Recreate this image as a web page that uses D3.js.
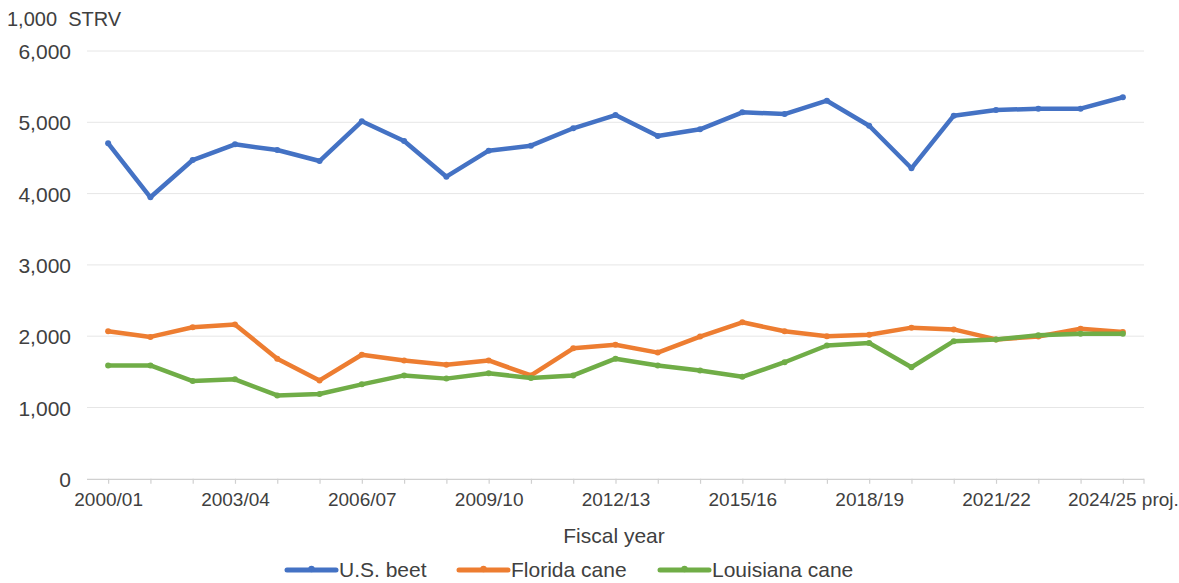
<!DOCTYPE html>
<html>
<head>
<meta charset="utf-8">
<script src="https://cdn.jsdelivr.net/npm/d3@7"></script>
<style>
  html, body { margin: 0; padding: 0; background: #fff; }
  svg { display: block; font-family: "Liberation Sans", Arial, sans-serif; }
</style>
</head>
<body>
<svg id="chart" width="1179" height="583"></svg>
<script>
const categories = ["2000/01","2001/02","2002/03","2003/04","2004/05","2005/06","2006/07","2007/08","2008/09","2009/10","2010/11","2011/12","2012/13","2013/14","2014/15","2015/16","2016/17","2017/18","2018/19","2019/20","2020/21","2021/22","2022/23","2023/24","2024/25"];
const tickLabels = {"2000/01":"2000/01","2003/04":"2003/04","2006/07":"2006/07","2009/10":"2009/10","2012/13":"2012/13","2015/16":"2015/16","2018/19":"2018/19","2021/22":"2021/22","2024/25":"2024/25 proj."};
const usBeet = [4705, 3948, 4471, 4691, 4611, 4457, 5014, 4738, 4237, 4602, 4672, 4916, 5102, 4808, 4902, 5140, 5116, 5303, 4952, 4355, 5093, 5172, 5191, 5191, 5351];
const floridaCane = [2070, 1990, 2125, 2165, 1685, 1380, 1740, 1660, 1600, 1660, 1450, 1830, 1880, 1770, 1995, 2195, 2070, 2000, 2020, 2120, 2095, 1955, 1995, 2105, 2060];
const louisianaCane = [1590, 1590, 1370, 1395, 1170, 1190, 1325, 1450, 1405, 1480, 1415, 1450, 1685, 1590, 1520, 1430, 1635, 1870, 1905, 1565, 1930, 1955, 2015, 2035, 2035];
const yTicks = [0, 1000, 2000, 3000, 4000, 5000, 6000];
const seriesNames = ["U.S. beet", "Florida cane", "Louisiana cane"];
const seriesColors = ["#4472C4", "#ED7D31", "#70AD47"];

(function () {
const svg = d3.select("#chart");
const pLeft = 87, pRight = 1144, pTop = 51, pBottom = 478.8;
const textColor = "#404040";

const x = d3.scalePoint().domain(categories).range([pLeft, pRight]).padding(0.5);
const y = d3.scaleLinear().domain([0, 6000]).range([pBottom, pTop]);

// gridlines
svg.append("g").selectAll("line").data(yTicks.filter(d => d > 0)).join("line")
  .attr("x1", pLeft).attr("x2", pRight)
  .attr("y1", d => y(d)).attr("y2", d => y(d))
  .attr("stroke", "#e6e6e6").attr("stroke-width", 1);

// y labels
const yAxis = d3.axisLeft(y).tickValues(yTicks).tickSize(0).tickPadding(0).tickFormat(d3.format(","));
const gy = svg.append("g").attr("transform", `translate(71,0)`).call(yAxis);
gy.select(".domain").remove();
gy.selectAll("text").attr("font-size", 21).attr("fill", textColor)
  .attr("font-family", "Liberation Sans, Arial, sans-serif").attr("dy", "0.36em");

// x axis
const xAxis = d3.axisBottom(x).tickSize(5).tickSizeOuter(0).tickPadding(9)
  .tickFormat(d => tickLabels[d] || "");
const gx = svg.append("g").attr("transform", `translate(0,${pBottom})`).call(xAxis);
gx.select(".domain").attr("stroke", "#d0d0d0").attr("stroke-width", 1.2)
  .attr("d", `M${pLeft},0.5H${pRight}`);
gx.selectAll(".tick line").attr("stroke", "#d0d0d0").attr("stroke-width", 1.2);
gx.selectAll("text").attr("font-size", 19).attr("fill", textColor)
  .attr("font-family", "Liberation Sans, Arial, sans-serif");
gx.append("line").attr("x1", pRight).attr("x2", pRight).attr("y1", 0).attr("y2", 5)
  .attr("stroke", "#d0d0d0").attr("stroke-width", 1.2);

// axis titles
svg.append("text").attr("x", 7).attr("y", 26).attr("font-size", 20).attr("fill", textColor)
  .attr("xml:space", "preserve").style("white-space", "pre").text("1,000  STRV");
svg.append("text").attr("x", 614).attr("y", 543).attr("text-anchor", "middle")
  .attr("font-size", 21).attr("fill", textColor).text("Fiscal year");

// lines
const series = [usBeet, floridaCane, louisianaCane];
const line = d3.line().x((d, i) => x(categories[i])).y(d => y(d));
series.forEach((vals, si) => {
  const g = svg.append("g");
  g.append("path").datum(vals).attr("d", line)
    .attr("fill", "none").attr("stroke", seriesColors[si]).attr("stroke-width", 4.5)
    .attr("stroke-linejoin", "round").attr("stroke-linecap", "round");
  g.selectAll("circle").data(vals).join("circle")
    .attr("cx", (d, i) => x(categories[i])).attr("cy", d => y(d)).attr("r", 3)
    .attr("fill", seriesColors[si]);
});

// legend
const legendX = [287, 459, 660];
const leg = svg.append("g");
seriesNames.forEach((name, i) => {
  const g = leg.append("g");
  g.append("line").attr("x1", legendX[i]).attr("x2", legendX[i] + 49)
    .attr("y1", 570).attr("y2", 570)
    .attr("stroke", seriesColors[i]).attr("stroke-width", 5).attr("stroke-linecap", "round");
  g.append("circle").attr("cx", legendX[i] + 24.5).attr("cy", 569).attr("r", 3.2).attr("fill", seriesColors[i]);
  g.append("text").attr("x", legendX[i] + 52).attr("y", 577)
    .attr("font-size", 21).attr("fill", textColor).text(name);
});
})();
</script>
</body>
</html>
